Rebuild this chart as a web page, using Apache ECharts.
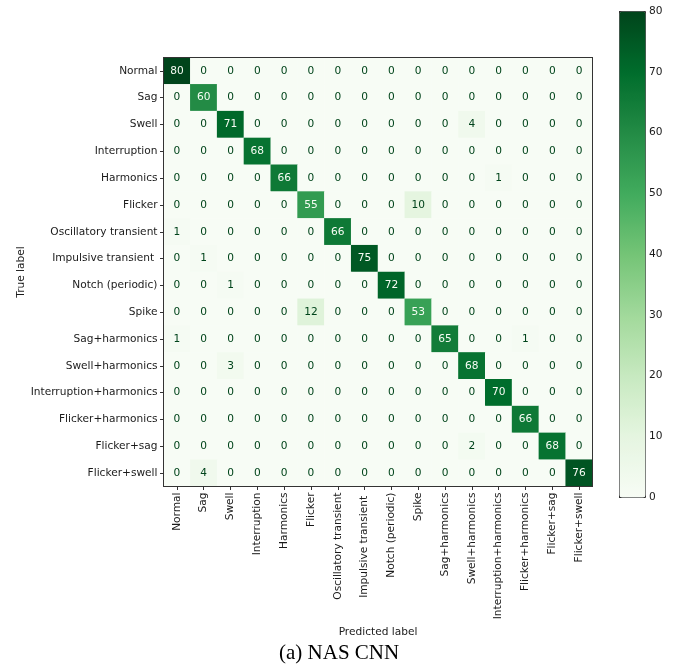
<!DOCTYPE html>
<html>
<head>
<meta charset="utf-8">
<script src="https://cdn.jsdelivr.net/npm/echarts@6/dist/echarts.min.js"></script>
<style>
  html, body { margin: 0; padding: 0; background: #fff; }
  #chart { width: 689px; height: 671px; }
</style>
</head>
<body>
<div id="chart"></div>
<script>
// Class names shared by both axes
const classes = [
  'Normal', 'Sag', 'Swell', 'Interruption', 'Harmonics', 'Flicker',
  'Oscillatory transient', 'Impulsive transient ', 'Notch (periodic)', 'Spike',
  'Sag+harmonics', 'Swell+harmonics', 'Interruption+harmonics',
  'Flicker+harmonics', 'Flicker+sag', 'Flicker+swell'
];

// Confusion matrix counts: one row per true class, columns = predicted class
const rowNormal        = [80, 0, 0, 0, 0, 0, 0, 0, 0, 0, 0, 0, 0, 0, 0, 0];
const rowSag           = [0, 60, 0, 0, 0, 0, 0, 0, 0, 0, 0, 0, 0, 0, 0, 0];
const rowSwell         = [0, 0, 71, 0, 0, 0, 0, 0, 0, 0, 0, 4, 0, 0, 0, 0];
const rowInterruption  = [0, 0, 0, 68, 0, 0, 0, 0, 0, 0, 0, 0, 0, 0, 0, 0];
const rowHarmonics     = [0, 0, 0, 0, 66, 0, 0, 0, 0, 0, 0, 0, 1, 0, 0, 0];
const rowFlicker       = [0, 0, 0, 0, 0, 55, 0, 0, 0, 10, 0, 0, 0, 0, 0, 0];
const rowOscillatory   = [1, 0, 0, 0, 0, 0, 66, 0, 0, 0, 0, 0, 0, 0, 0, 0];
const rowImpulsive     = [0, 1, 0, 0, 0, 0, 0, 75, 0, 0, 0, 0, 0, 0, 0, 0];
const rowNotch         = [0, 0, 1, 0, 0, 0, 0, 0, 72, 0, 0, 0, 0, 0, 0, 0];
const rowSpike         = [0, 0, 0, 0, 0, 12, 0, 0, 0, 53, 0, 0, 0, 0, 0, 0];
const rowSagHarm       = [1, 0, 0, 0, 0, 0, 0, 0, 0, 0, 65, 0, 0, 1, 0, 0];
const rowSwellHarm     = [0, 0, 3, 0, 0, 0, 0, 0, 0, 0, 0, 68, 0, 0, 0, 0];
const rowInterHarm     = [0, 0, 0, 0, 0, 0, 0, 0, 0, 0, 0, 0, 70, 0, 0, 0];
const rowFlickerHarm   = [0, 0, 0, 0, 0, 0, 0, 0, 0, 0, 0, 0, 0, 66, 0, 0];
const rowFlickerSag    = [0, 0, 0, 0, 0, 0, 0, 0, 0, 0, 0, 2, 0, 0, 68, 0];
const rowFlickerSwell  = [0, 4, 0, 0, 0, 0, 0, 0, 0, 0, 0, 0, 0, 0, 0, 76];

const matrix = [
  rowNormal, rowSag, rowSwell, rowInterruption, rowHarmonics, rowFlicker,
  rowOscillatory, rowImpulsive, rowNotch, rowSpike, rowSagHarm, rowSwellHarm,
  rowInterHarm, rowFlickerHarm, rowFlickerSag, rowFlickerSwell
];

// Colour bar range and ticks
const colorMin = 0;
const colorMax = 80;
const colorTickStep = 10;

// "Greens" sequential palette
const greens = ['#f7fcf5', '#e5f5e0', '#c7e9c0', '#a1d99b', '#74c476',
                '#41ab5d', '#238b45', '#006d2c', '#00441b'];

// Cell text switches to the light end of the palette above the mid value
const vals = matrix.flat();
const threshold = (Math.max(...vals) + Math.min(...vals)) / 2;

const cells = [];
matrix.forEach((row, i) => {
  row.forEach((v, j) => {
    cells.push({
      value: [j, i, v],
      label: { color: v < threshold ? greens[8] : greens[0] }
    });
  });
});

const font = 'DejaVu Sans';
const fs = 10.6;
const ink = '#1a1a1a';
const spine = { show: true, lineStyle: { color: '#333', width: 1 } };
const hidden = { show: false };

const chart = echarts.init(document.getElementById('chart'), null, { renderer: 'canvas' });

chart.setOption({
  backgroundColor: '#fff',
  animation: false,
  textStyle: { fontFamily: font },
  grid: [
    { left: 163.5, top: 57.5, width: 429, height: 429, show: false,
      outerBoundsMode: 'none', containLabel: false },
    { left: 619, top: 11, width: 26, height: 486, show: false,
      outerBoundsMode: 'none', containLabel: false }
  ],
  xAxis: [
    {
      gridIndex: 0, type: 'category', data: classes, position: 'bottom', z: 5,
      name: 'Predicted label', nameLocation: 'middle', nameGap: 140,
      nameMoveOverlap: false,
      nameTextStyle: { fontFamily: font, fontSize: fs, color: ink },
      axisLine: spine,
      axisTick: { show: true, alignWithLabel: true, length: 3.5, lineStyle: { color: '#333' } },
      axisLabel: { rotate: 90, fontFamily: font, fontSize: fs, color: ink, margin: 6, interval: 0 },
      splitLine: hidden
    },
    {
      gridIndex: 0, type: 'category', data: classes, position: 'top', z: 5,
      axisLine: spine, axisTick: hidden, axisLabel: hidden, splitLine: hidden
    },
    {
      gridIndex: 1, type: 'value', show: false, min: 0, max: 1
    }
  ],
  yAxis: [
    {
      gridIndex: 0, type: 'category', data: classes, inverse: true, z: 5,
      name: 'True label', nameLocation: 'middle', nameGap: 137, nameRotate: 90,
      nameMoveOverlap: false,
      nameTextStyle: { fontFamily: font, fontSize: fs, color: ink },
      axisLine: spine,
      axisTick: { show: true, alignWithLabel: true, length: 3.5, lineStyle: { color: '#333' } },
      axisLabel: { fontFamily: font, fontSize: fs, color: ink, margin: 6, interval: 0 },
      splitLine: hidden
    },
    {
      gridIndex: 0, type: 'category', data: classes, inverse: true, position: 'right', z: 5,
      axisLine: spine, axisTick: hidden, axisLabel: hidden, splitLine: hidden
    },
    {
      gridIndex: 1, type: 'value', position: 'right', min: colorMin, max: colorMax,
      interval: colorTickStep,
      axisLine: hidden,
      axisTick: { show: true, length: 3.5, lineStyle: { color: '#333' } },
      axisLabel: { fontFamily: font, fontSize: fs, color: ink, margin: 4 },
      splitLine: hidden
    }
  ],
  visualMap: {
    type: 'continuous', min: colorMin, max: colorMax, seriesIndex: 0,
    calculable: false, orient: 'vertical',
    left: 619, top: 11, itemWidth: 26, itemHeight: 486,
    padding: 0, borderColor: '#333', borderWidth: 1,
    text: null, showLabel: false,
    inRange: { color: greens }
  },
  series: [
    {
      type: 'heatmap', xAxisIndex: 0, yAxisIndex: 0, data: cells,
      label: { show: true, fontFamily: font, fontSize: fs },
      itemStyle: { borderWidth: 0 },
      emphasis: { disabled: true }
    },
    {
      type: 'scatter', xAxisIndex: 2, yAxisIndex: 2, data: [], silent: true
    }
  ],
  graphic: [
    {
      type: 'text', left: 279, top: 643,
      style: { text: '(a) NAS CNN', fontFamily: 'Liberation Serif', fontSize: 21, fill: '#000' }
    }
  ]
});
</script>
</body>
</html>
